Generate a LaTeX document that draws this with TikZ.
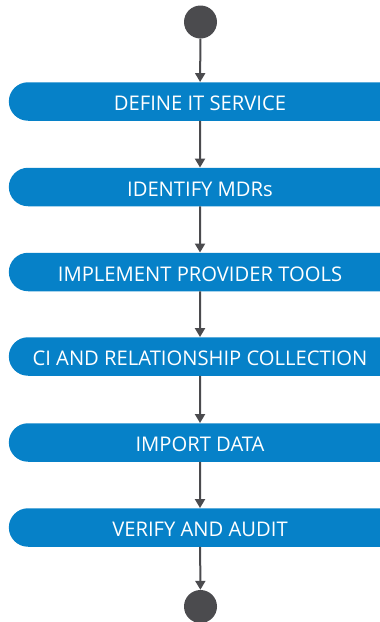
\documentclass[tikz,border=0pt]{standalone}
\usepackage{fontspec}
\setmainfont{Open Sans}
\usetikzlibrary{shapes.misc,arrows.meta}
\definecolor{stepblue}{HTML}{0681C8}
\definecolor{flowgray}{HTML}{4B4B4E}
\begin{document}
\begin{tikzpicture}[x=1pt,y=-1pt,
  stepbox/.style={rounded rectangle, rounded rectangle right arc=none,
    fill=stepblue, text=white, minimum width=380pt, minimum height=38.5pt,
    inner sep=0pt, text height=18.4pt, text depth=0pt,
    font=\fontsize{20.2}{24}\selectfont},
  endpoint/.style={circle, fill=flowgray, minimum size=33pt, inner sep=0pt},
  flow/.style={draw=flowgray, line width=2pt, -{Triangle[width=10pt,length=9pt]}}]
\useasboundingbox (0,0) rectangle (380,622);
\clip (0,0) rectangle (380,622);
\node[endpoint] (start) at (200.5,22) {};
\node[stepbox] (s1) at (200,101.5) {DEFINE IT SERVICE};
\node[stepbox] (s2) at (200,187) {IDENTIFY MDRs};
\node[stepbox] (s3) at (200,272) {IMPLEMENT PROVIDER TOOLS};
\node[stepbox] (s4) at (200,356.5) {CI AND RELATIONSHIP COLLECTION};
\node[stepbox] (s5) at (200,442.5) {IMPORT DATA};
\node[stepbox] (s6) at (200,527.5) {VERIFY AND AUDIT};
\node[endpoint] (stop) at (200.5,606.5) {};
\draw[flow] (start) -- (s1);
\draw[flow] (s1) -- (s2);
\draw[flow] (s2) -- (s3);
\draw[flow] (s3) -- (s4);
\draw[flow] (s4) -- (s5);
\draw[flow] (s5) -- (s6);
\draw[flow] (s6) -- (stop);
\end{tikzpicture}
\end{document}
